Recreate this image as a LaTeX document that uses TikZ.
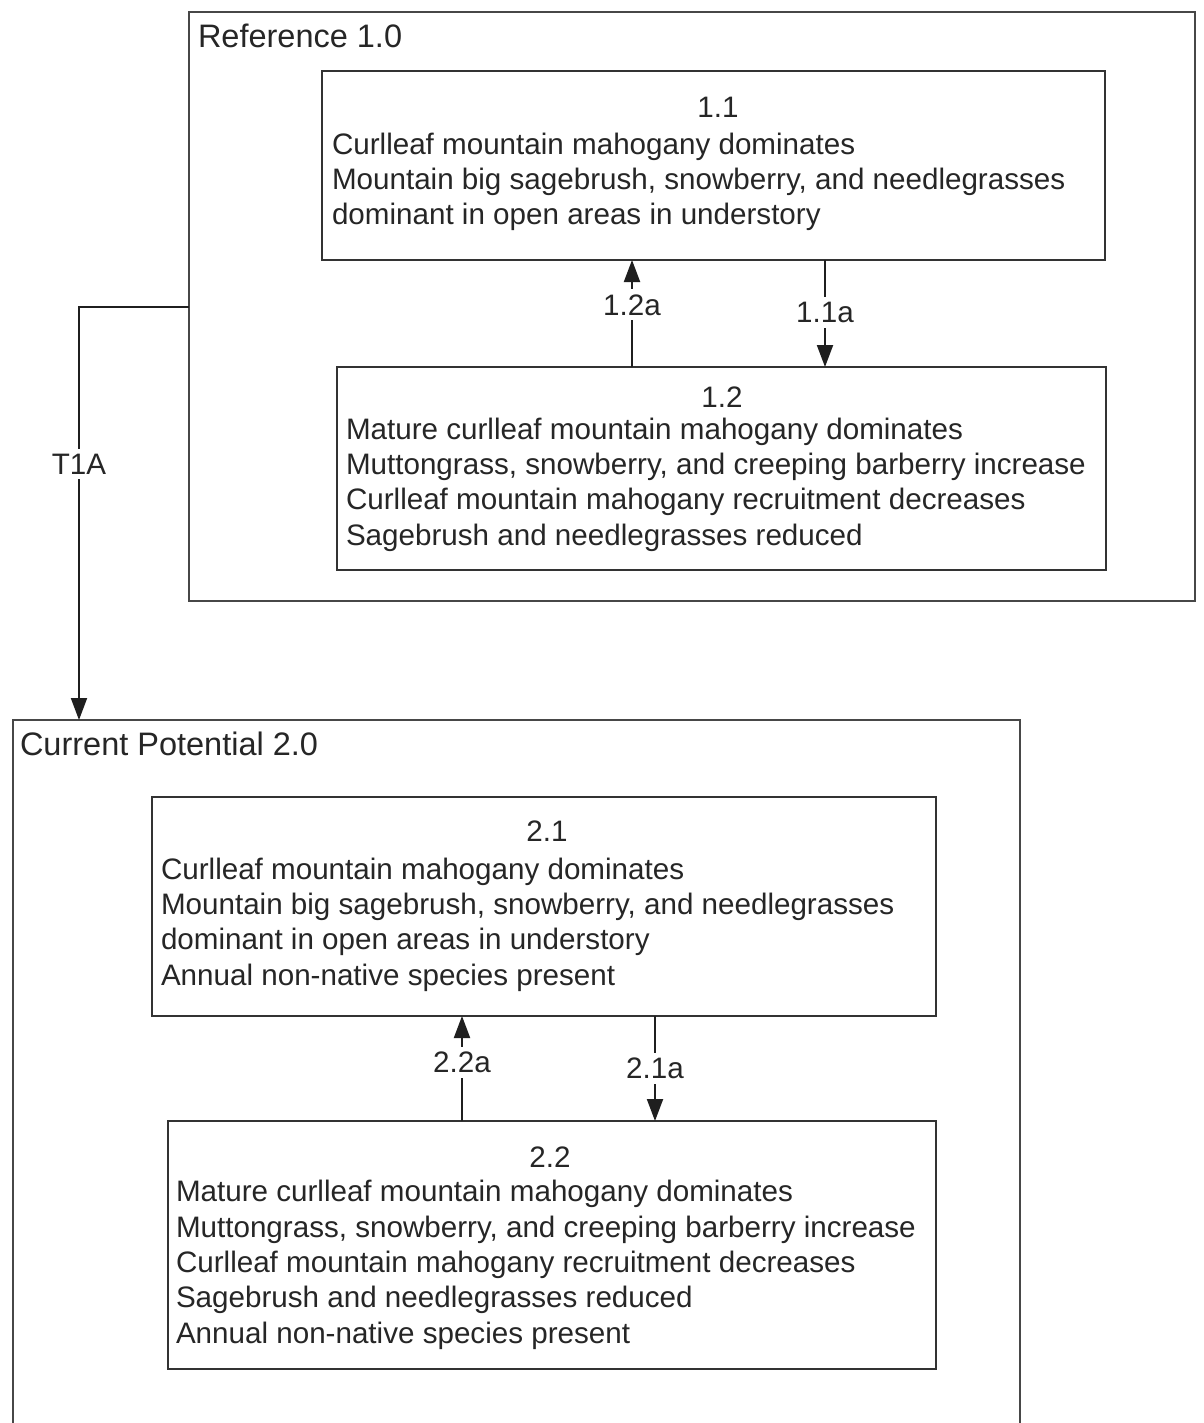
\documentclass[tikz,border=0pt]{standalone}
\usepackage{fontspec}
\setmainfont{Liberation Sans}
\usetikzlibrary{arrows.meta}
\begin{document}
\begin{tikzpicture}[x=1pt,y=-1pt,
  txt/.style={font=\fontsize{29.6}{35.3}\selectfont, text=black!85, inner sep=0pt, outer sep=0pt},
  ttl/.style={font=\fontsize{32.5}{38}\selectfont, text=black!85, inner sep=0pt, outer sep=0pt},
  outerbox/.style={draw=black!72, line width=2.8pt, inner sep=0pt, outer sep=0pt, rectangle},
  statebox/.style={draw=black!80, line width=2.6pt, inner sep=0pt, outer sep=0pt, rectangle},
  arr/.style={draw=black!88, line width=2pt, -{Triangle[width=16pt,length=22pt]}},
  lbl/.style={txt, fill=white, inner xsep=2pt, inner ysep=5pt}]
\useasboundingbox (0,0) rectangle (1203,1423);
\fill[white] (0,0) rectangle (1203,1423);

% outer group boxes
\node[outerbox, minimum width=1006pt, minimum height=589pt] (ref) at (692,306.5) {};
\node[outerbox, minimum width=1007pt, minimum height=712pt] (cur) at (516.5,1076) {};
\node[ttl, anchor=base west] (reftitle) at (198,48) {Reference 1.0};
\node[ttl, anchor=base west] (curtitle) at (20,755) {Current Potential 2.0};

% state boxes
\node[statebox, minimum width=783pt, minimum height=189pt] (b11) at (713.5,165.5) {};
\node[statebox, minimum width=769pt, minimum height=203pt] (b12) at (721.5,468.5) {};
\node[statebox, minimum width=784pt, minimum height=219pt] (b21) at (544,906.5) {};
\node[statebox, minimum width=768pt, minimum height=248pt] (b22) at (552,1245) {};

% state texts (multi-line nodes anchored at the baseline of their last line)
\node[txt, anchor=base] (n11) at (718,118) {1.1};
\node[txt, anchor=base west, align=left] (t11) at (332,225) {Curlleaf mountain mahogany dominates\\Mountain big sagebrush, snowberry, and needlegrasses\\dominant in open areas in understory};

\node[txt, anchor=base] (n12) at (722,407) {1.2};
\node[txt, anchor=base west, align=left] (t12) at (346,545) {Mature curlleaf mountain mahogany dominates\\Muttongrass, snowberry, and creeping barberry increase\\Curlleaf mountain mahogany recruitment decreases\\Sagebrush and needlegrasses reduced};

\node[txt, anchor=base] (n21) at (547,841) {2.1};
\node[txt, anchor=base west, align=left] (t21) at (161,985) {Curlleaf mountain mahogany dominates\\Mountain big sagebrush, snowberry, and needlegrasses\\dominant in open areas in understory\\Annual non-native species present};

\node[txt, anchor=base] (n22) at (550,1167) {2.2};
\node[txt, anchor=base west, align=left] (t22) at (176,1343) {Mature curlleaf mountain mahogany dominates\\Muttongrass, snowberry, and creeping barberry increase\\Curlleaf mountain mahogany recruitment decreases\\Sagebrush and needlegrasses reduced\\Annual non-native species present};

% connector x positions
\coordinate (x12a) at (632,0);
\coordinate (x11a) at (825,0);
\coordinate (x22a) at (462,0);
\coordinate (x21a) at (655,0);
\coordinate (tc) at (79,307);

\draw[arr] (b12.north -| x12a) -- node[lbl, pos=0.58] (l12a) {1.2a} (b11.south -| x12a);
\draw[arr] (b11.south -| x11a) -- node[lbl, pos=0.49] (l11a) {1.1a} (b12.north -| x11a);
\draw[arr] (b22.north -| x22a) -- node[lbl, pos=0.56] (l22a) {2.2a} (b21.south -| x22a);
\draw[arr] (b21.south -| x21a) -- node[lbl, pos=0.50] (l21a) {2.1a} (b22.north -| x21a);
\draw[arr] (ref.west |- tc) -| node[lbl, pos=0.69] (lt1a) {T1A} (cur.north -| tc);
\end{tikzpicture}
\end{document}
